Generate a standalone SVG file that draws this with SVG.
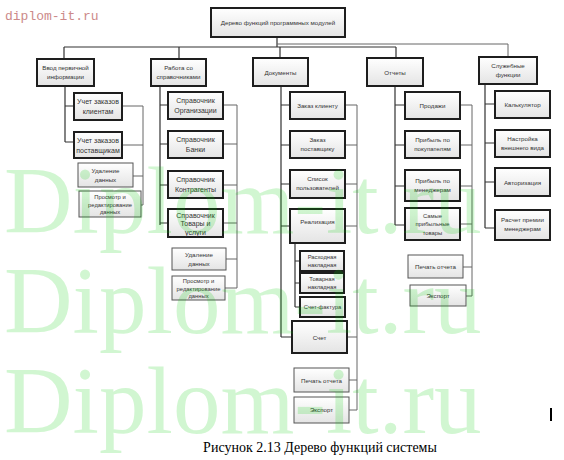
<svg xmlns="http://www.w3.org/2000/svg" width="564" height="460" viewBox="0 0 564 460">
<defs>
<linearGradient id="g" x1="0" y1="0" x2="0" y2="1">
<stop offset="0" stop-color="#ffffff"/>
<stop offset="1" stop-color="#e4e4e4"/>
</linearGradient>
</defs>
<style>
.k rect{fill:url(#g);stroke:#1e1e1e;stroke-width:2}
.n rect{fill:url(#g);stroke:#555;stroke-width:1}
text{font-family:"Liberation Sans",Arial,sans-serif;fill:#333;text-anchor:middle}
.s{font-size:6.2px}
.t{font-size:5.8px}
.m{font-size:7px}
.c path{fill:none}
.d{stroke:#333;stroke-width:1.2}
.r{stroke:#666;stroke-width:1}
.wm{font-family:"Liberation Serif","Times New Roman",serif;font-size:95px;fill:#00cc00;fill-opacity:0.18;text-anchor:start}
</style>
<rect width="564" height="460" fill="#fff"/>
<text x="5" y="20" style="font-family:'Liberation Mono',monospace;font-size:13px;fill:#cc8a8a;text-anchor:start">diplom-it.ru</text>

<g class="c" id="connectors">
<path class="d" d="M277 37V47M64 47H396M64 47V59M179 47V59M280 47V58M396 47V58"/>
<path class="r" d="M277 44H508V57"/>
<path class="d" d="M65 86V142M65 106H74M65 142H74"/>
<path class="r" d="M122 106H143M122 145H143M133 176H143M141 205H143M143 106V205"/>
<path class="d" d="M160 86V225M160 105H168M160 144H168M160 185H168M160 223H168"/>
<path class="r" d="M223 105H237M223 144H237M223 185H237M223 223H237M226 259H237M225 288H237M237 105V288"/>
<path class="d" d="M281 86V337M281 105H290M281 145H290M281 184H290M281 226H290M281 337H292"/>
<path class="d" d="M295 243V307M295 261H300M295 283H300M295 307H300"/>
<path class="r" d="M345 105H357M345 145H357M345 184H357M345 226H357M347 337H357M349 380H357M349 410H357M357 105V410"/>
<path class="d" d="M395 86V225M395 105H405M395 145H405M395 186H405M395 225H405"/>
<path class="r" d="M460 105H472M460 145H472M460 186H472M460 224H472M463 267H472M466 296H472M472 105V296"/>
<path class="d" d="M485 84V228M485 104H495M485 143H495M485 182H495M485 228H495"/>
</g>

<g id="root" class="k"><rect x="211" y="8" width="134" height="29"/><text class="s" x="278" y="25">Дерево функций программных модулей</text></g>

<g id="vvod" class="k"><rect x="37" y="59" width="57" height="27"/><text class="s" x="65.5" y="70">Ввод первичной</text><text class="s" x="65.5" y="79">информации</text></g>
<g id="rabota" class="k"><rect x="151" y="59" width="55" height="27"/><text class="s" x="178.5" y="70">Работа со</text><text class="s" x="178.5" y="79">справочниками</text></g>
<g id="docs" class="k"><rect x="253" y="58" width="55" height="28"/><text class="s" x="280.5" y="74.5">Документы</text></g>
<g id="otchety" class="k"><rect x="367" y="58" width="56" height="28"/><text class="s" x="395" y="74.5">Отчеты</text></g>
<g id="sluzh" class="k"><rect x="479" y="57" width="58" height="27"/><text class="s" x="508" y="68">Служебные</text><text class="s" x="508" y="77">функции</text></g>

<g id="v1" class="k"><rect x="74" y="93" width="48" height="27"/><text class="m" x="98" y="104">Учет заказов</text><text class="m" x="98" y="114">клиентам</text></g>
<g id="v2" class="k"><rect x="74" y="132" width="48" height="26"/><text class="m" x="98" y="143">Учет заказов</text><text class="m" x="98" y="153">поставщикам</text></g>
<g id="v3" class="n"><rect x="78" y="163" width="55" height="24"/><text class="s" x="105.5" y="173">Удаление</text><text class="s" x="105.5" y="181.5">данных</text></g>
<g id="v4" class="n"><rect x="79" y="191" width="62" height="26"/><text class="t" x="110" y="199">Просмотр и</text><text class="t" x="110" y="206.5">редактирование</text><text class="t" x="110" y="214">данных</text></g>

<g id="r1" class="k"><rect x="168" y="92" width="55" height="27"/><text class="m" x="195.5" y="103">Справочник</text><text class="m" x="195.5" y="113">Организации</text></g>
<g id="r2" class="k"><rect x="168" y="131" width="55" height="27"/><text class="m" x="195.5" y="142">Справочник</text><text class="m" x="195.5" y="152">Банки</text></g>
<g id="r3" class="k"><rect x="168" y="171" width="55" height="27"/><text class="m" x="195.5" y="182">Справочник</text><text class="m" x="195.5" y="192">Контрагенты</text></g>
<g id="r4" class="k"><rect x="168" y="209" width="55" height="28"/><text class="m" x="195.5" y="217.5">Справочник</text><text class="m" x="195.5" y="226">Товары и</text><text class="m" x="195.5" y="234.5">услуги</text></g>
<g id="r5" class="n"><rect x="172" y="248" width="54" height="22"/><text class="s" x="199" y="257">Удаление</text><text class="s" x="199" y="265.5">данных</text></g>
<g id="r6" class="n"><rect x="172" y="276" width="53" height="24"/><text class="t" x="198.5" y="283">Просмотр и</text><text class="t" x="198.5" y="290.5">редактирование</text><text class="t" x="198.5" y="298">данных</text></g>

<g id="d1" class="k"><rect x="290" y="92" width="55" height="27"/><text class="s" x="317.5" y="108">Заказ клиенту</text></g>
<g id="d2" class="k"><rect x="290" y="131" width="55" height="27"/><text class="s" x="317.5" y="142">Заказ</text><text class="s" x="317.5" y="151">поставщику</text></g>
<g id="d3" class="k"><rect x="290" y="170" width="55" height="28"/><text class="s" x="317.5" y="181">Список</text><text class="s" x="317.5" y="190">пользователей</text></g>
<g id="d4" class="k"><rect x="290" y="209" width="55" height="34"/><text class="s" x="317.5" y="224">Реализация</text></g>
<g id="d5" class="k"><rect x="300" y="251" width="44" height="20"/><text class="t" x="322" y="259">Расходная</text><text class="t" x="322" y="267">накладная</text></g>
<g id="d6" class="k"><rect x="300" y="273" width="44" height="20"/><text class="t" x="322" y="281">Товарная</text><text class="t" x="322" y="289">накладная</text></g>
<g id="d7" class="k"><rect x="300" y="297" width="45" height="20"/><text class="t" x="322.5" y="309">Счет-фактура</text></g>
<g id="d8" class="k"><rect x="292" y="321" width="55" height="32"/><text class="s" x="319.5" y="340">Счет</text></g>
<g id="d9" class="n"><rect x="294" y="368" width="55" height="24"/><text class="s" x="321.5" y="382.5">Печать отчета</text></g>
<g id="d10" class="n"><rect x="294" y="397" width="55" height="26"/><text class="s" x="321.5" y="412">Экспорт</text></g>

<g id="o1" class="k"><rect x="405" y="92" width="55" height="27"/><text class="s" x="432.5" y="108">Продажи</text></g>
<g id="o2" class="k"><rect x="405" y="131" width="55" height="27"/><text class="s" x="432.5" y="142">Прибыль по</text><text class="s" x="432.5" y="151">покупателям</text></g>
<g id="o3" class="k"><rect x="405" y="170" width="55" height="31"/><text class="s" x="432.5" y="183">Прибыль по</text><text class="s" x="432.5" y="192">менеджерам</text></g>
<g id="o4" class="k"><rect x="405" y="208" width="55" height="32"/><text class="t" x="432.5" y="217.5">Самые</text><text class="t" x="432.5" y="226">прибыльные</text><text class="t" x="432.5" y="234.5">товары</text></g>
<g id="o5" class="n"><rect x="408" y="255" width="55" height="23"/><text class="s" x="435.5" y="269">Печать отчета</text></g>
<g id="o6" class="n"><rect x="410" y="285" width="56" height="21"/><text class="s" x="438" y="298">Экспорт</text></g>

<g id="f1" class="k"><rect x="495" y="91" width="55" height="27"/><text class="s" x="522.5" y="107">Калькулятор</text></g>
<g id="f2" class="k"><rect x="495" y="130" width="55" height="27"/><text class="s" x="522.5" y="141">Настройка</text><text class="s" x="522.5" y="150">внешнего вида</text></g>
<g id="f3" class="k"><rect x="495" y="168" width="55" height="28"/><text class="s" x="522.5" y="184.5">Авторизация</text></g>
<g id="f4" class="k"><rect x="495" y="210" width="55" height="30"/><text class="s" x="522.5" y="222">Расчет премии</text><text class="s" x="522.5" y="231">менеджерам</text></g>

<rect x="550" y="408" width="2" height="13" fill="#000"/>
<text x="320" y="452" style="font-family:'Liberation Serif','Times New Roman',serif;font-size:14px;fill:#000">Рисунок 2.13 Дерево функций системы</text>

<text class="wm" x="4" y="233">Diplom-it.ru</text>
<text class="wm" x="4" y="333">Diplom-it.ru</text>
<text class="wm" x="4" y="433">Diplom-it.ru</text>
</svg>
